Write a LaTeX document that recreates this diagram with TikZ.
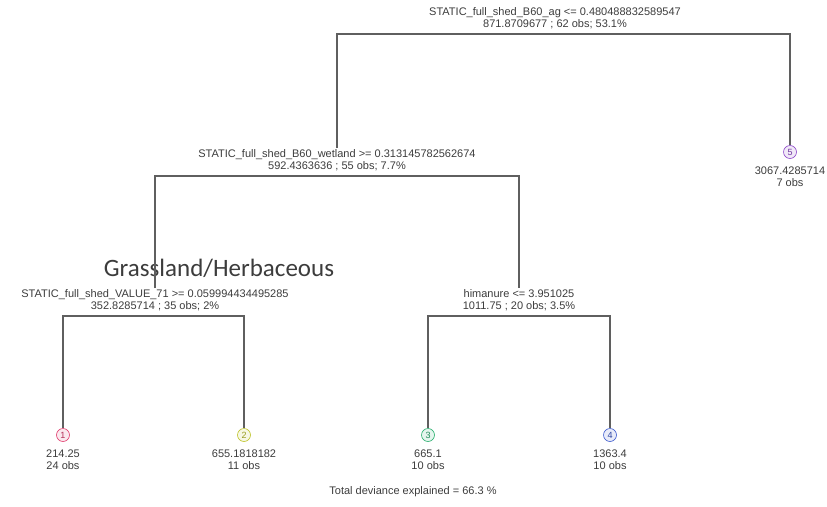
\documentclass[tikz,border=0pt]{standalone}
\usepackage{fontspec}
\setmainfont{Liberation Sans}
\newfontfamily\calibri{Carlito}
\definecolor{rosso}{RGB}{225,60,110}
\definecolor{giallo}{RGB}{190,195,40}
\definecolor{verde}{RGB}{40,175,110}
\definecolor{blu}{RGB}{60,90,205}
\definecolor{viola}{RGB}{140,70,200}
\definecolor{linea}{RGB}{95,95,95}
\definecolor{testo}{RGB}{60,60,60}
\tikzstyle{albero}=[
    x=1pt, y=-1pt,
    split label/.style={font={\fontsize{11}{12}\selectfont},align=center,inner sep=1pt,text=testo},
    leaf value/.style={font={\fontsize{11}{12}\selectfont},align=center,inner sep=1pt,text=testo,anchor=north},
    branch/.style={linea,line width=1.5pt},
    leaf/.style={circle,draw=##1,fill=##1!12,text=##1!80!black,line width=0.6pt,
        inner sep=0pt,minimum size=13pt,font={\fontsize{9}{9}\selectfont}},
]

\begin{document}
\begin{tikzpicture}[albero]
    \useasboundingbox (0,0) rectangle (827,506);

    % splits
    \node[split label] (root) at (555,18) {STATIC\_full\_shed\_B60\_ag <= 0.480488832589547\\871.8709677 ; 62 obs; 53.1\%};
    \node[split label] (wetland) at (337,160) {STATIC\_full\_shed\_B60\_wetland >= 0.313145782562674\\592.4363636 ; 55 obs; 7.7\%};
    \node[split label] (value) at (155,300) {STATIC\_full\_shed\_VALUE\_71 >= 0.059994434495285\\352.8285714 ; 35 obs; 2\%};
    \node[split label] (himanure) at (519,300) {himanure <= 3.951025\\1011.75 ; 20 obs; 3.5\%};

    % leaves
    \foreach \n/\x/\y/\c/\v/\o in {1/63/435/rosso/214.25/24, 2/244/435/giallo/655.1818182/11,
        3/428/435/verde/665.1/10, 4/610/435/blu/1363.4/10, 5/790/152/viola/3067.4285714/7}{
        \node[leaf=\c] (foglia\n) at (\x,\y) {\n};
        \node[leaf value] (valore\n) at (\x,\y+14) {\v\\\o{} obs};
    }

    \node[text=testo,font={\calibri\fontsize{25}{27}\selectfont}] (grass) at (219,268) {Grassland/Herbaceous};

    \draw[branch] (wetland.north) |- ([yshift=-4pt]root.south) -| (foglia5.north);
    \draw[branch] (value.north) |- ([yshift=-4pt]wetland.south) -| (himanure.north);
    \draw[branch] (foglia1.north) |- ([yshift=-4pt]value.south) -| (foglia2.north);
    \draw[branch] (foglia3.north) |- ([yshift=-4pt]himanure.south) -| (foglia4.north);

    \node[split label] (totale) at (413,492) {Total deviance explained = 66.3 \%};
\end{tikzpicture}
\end{document}
